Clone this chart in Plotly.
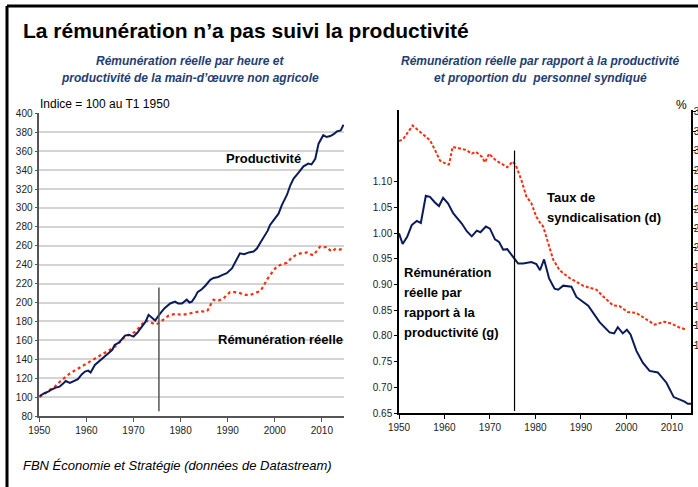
import plotly.graph_objects as go

W, H = 698, 487

# ---------------- DATA ----------------
prod_years = [1950.0, 1951.0, 1952.0, 1952.6, 1953.5, 1954.3, 1955.0, 1955.6, 1956.5, 1957.3, 1958.2, 1959.0,
              1959.7, 1960.4, 1960.9, 1961.8, 1962.8, 1963.8, 1964.8, 1965.5, 1966.0, 1967.0, 1968.2, 1969.0,
              1970.0, 1970.8, 1971.8, 1972.6, 1973.2, 1973.9, 1974.6, 1975.6, 1976.6, 1977.8, 1978.8, 1979.5,
              1980.3, 1981.3, 1981.9, 1982.4, 1983.1, 1983.6, 1984.5, 1985.3, 1986.3, 1987.0, 1988.0, 1988.8,
              1989.8, 1990.9, 1991.8, 1992.6, 1993.5, 1994.5, 1995.5, 1996.2, 1996.9, 1997.8, 1998.5, 1999.0,
              2000.0, 2000.8, 2001.5, 2002.0, 2002.6, 2003.3, 2004.0, 2005.0, 2006.1, 2007.1, 2007.8, 2008.6,
              2009.3, 2010.3, 2011.0, 2011.8, 2012.5, 2013.2, 2014.0, 2014.6]
prod_values = [101, 104, 106, 108, 110, 111, 114, 117, 115, 117, 119, 124,
               127, 128, 126, 134, 138, 143, 147, 150, 155, 158, 165, 166,
               164, 168, 174, 180, 187, 184, 181, 188, 194, 199, 201, 199,
               199, 203, 200, 201, 206, 211, 214, 218, 224, 226, 227, 229,
               231, 236, 244, 252, 251, 253, 254, 257, 263, 270, 276, 282,
               289, 294, 303, 308, 314, 324, 331, 337, 344, 347, 346, 352,
               368, 377, 375, 376, 378, 381, 382, 388]

rem_years = [1950.0, 1951.0, 1952.0, 1953.3, 1954.3, 1955.5, 1956.5, 1957.5, 1958.5, 1959.7, 1960.5, 1961.5,
             1962.3, 1963.3, 1964.5, 1966.0, 1967.0, 1968.2, 1969.3, 1970.3, 1971.3, 1972.5, 1973.2, 1974.0,
             1974.6, 1975.3, 1976.0, 1977.4, 1978.8, 1980.3, 1981.5, 1983.1, 1984.3, 1985.2, 1985.8, 1986.5,
             1987.0, 1988.0, 1989.1, 1989.8, 1990.5, 1991.5, 1992.6, 1993.5, 1994.8, 1995.8, 1996.9, 1997.6,
             1998.3, 1999.0, 1999.8, 2000.4, 2001.3, 2002.6, 2003.5, 2004.7, 2005.5, 2006.8, 2007.5, 2008.2,
             2009.0, 2009.6, 2010.3, 2011.0, 2011.6, 2012.1, 2013.0, 2013.8, 2014.6]
rem_values = [100, 103, 107, 111, 116, 121, 125, 128, 131, 134, 137, 140,
              142, 145, 149, 153, 158, 164, 166, 169, 174, 181, 180, 178,
              177, 178, 181, 186, 188, 187, 188, 190, 191, 190, 192, 199,
              203, 202, 204, 208, 211, 211, 210, 208, 208, 210, 212, 217,
              224, 229, 234, 238, 240, 242, 247, 251, 252, 253, 251, 250,
              255, 259, 258, 259, 256, 254, 257, 256, 257]

ratio_years = [1950.0, 1950.8, 1951.8, 1952.8, 1953.9, 1954.8, 1955.9, 1956.8, 1957.9, 1958.8, 1959.7, 1960.8,
               1961.9, 1963.8, 1964.9, 1966.0, 1967.1, 1967.9, 1969.1, 1970.0, 1971.1, 1972.0, 1972.9, 1973.8,
               1975.5, 1976.2, 1977.3, 1979.1, 1980.2, 1981.0, 1981.9, 1983.0, 1984.2, 1985.0, 1986.1, 1987.9,
               1989.0, 1991.6, 1994.1, 1996.3, 1997.3, 1998.1, 1999.2, 2000.1, 2000.9, 2002.2, 2003.6, 2005.1,
               2006.9, 2008.8, 2010.4, 2011.5, 2012.8, 2013.5, 2014.3]
ratio_values = [1.000, 0.979, 0.993, 1.016, 1.024, 1.020, 1.073, 1.071, 1.060, 1.053, 1.069, 1.058,
                1.039, 1.019, 1.004, 0.994, 1.005, 1.002, 1.013, 1.009, 0.988, 0.983, 0.968, 0.969,
                0.949, 0.941, 0.941, 0.944, 0.940, 0.928, 0.949, 0.912, 0.892, 0.890, 0.898, 0.896,
                0.876, 0.859, 0.827, 0.807, 0.805, 0.817, 0.805, 0.812, 0.803, 0.771, 0.748, 0.732,
                0.729, 0.709, 0.681, 0.677, 0.672, 0.668, 0.668]

union_years = [1950.0, 1950.9, 1953.0, 1954.6, 1955.7, 1956.8, 1957.9, 1959.0, 1960.5, 1961.0, 1961.8, 1963.4,
               1964.7, 1966.0, 1966.9, 1968.2, 1968.9, 1969.8, 1971.3, 1972.8, 1973.8, 1975.0, 1975.7, 1976.9,
               1978.0, 1979.1, 1980.2, 1981.0, 1981.7, 1982.8, 1983.9, 1985.3, 1987.5, 1989.0, 1990.5, 1991.9,
               1993.4, 1994.9, 1997.0, 1998.5, 2000.3, 2002.2, 2004.4, 2006.2, 2008.4, 2009.9, 2011.7, 2013.0]
union_values = [31.0, 31.2, 32.6, 32.0, 31.5, 31.1, 30.1, 29.0, 28.6, 28.6, 30.4, 30.2,
                30.1, 29.7, 29.9, 29.4, 28.8, 29.7, 29.0, 28.6, 28.3, 28.9, 28.5, 27.0,
                25.3, 24.6, 23.2, 22.6, 22.2, 20.5, 18.8, 17.7, 16.9, 16.5, 16.1, 15.9,
                15.7, 15.0, 14.1, 14.0, 13.4, 13.3, 12.6, 12.1, 12.4, 12.2, 11.8, 11.6]

left_y_ticks = list(range(80, 401, 20))
x_ticks = [1950, 1960, 1970, 1980, 1990, 2000, 2010]
ratio_ticks = [0.65, 0.70, 0.75, 0.80, 0.85, 0.90, 0.95, 1.00, 1.05, 1.10]
union_ticks = list(range(10, 35, 2))
break_year = 1975.4

# ---------------- STYLE / LAYOUT ----------------
NAVY = "#0b1a5a"
RED = "#ff2b0a"
SUB = "#233e72"
TICKFONT = dict(family="Liberation Sans Narrow, Arial Narrow, Liberation Sans, Arial", size=10, color="#222")


def px(x):
    return x / W


def py(y):
    return 1 - y / H


fig = go.Figure()

fig.add_trace(go.Scatter(x=rem_years, y=rem_values, mode="lines", xaxis="x", yaxis="y",
                         line=dict(color=RED, width=2.2, dash="dot"), hoverinfo="skip"))
fig.add_trace(go.Scatter(x=prod_years, y=prod_values, mode="lines", xaxis="x", yaxis="y",
                         line=dict(color=NAVY, width=2), hoverinfo="skip"))
fig.add_trace(go.Scatter(x=union_years, y=union_values, mode="lines", xaxis="x2", yaxis="y3",
                         line=dict(color=RED, width=2, dash="3px,2px"), hoverinfo="skip"))
fig.add_trace(go.Scatter(x=ratio_years, y=ratio_values, mode="lines", xaxis="x2", yaxis="y2",
                         line=dict(color=NAVY, width=2), hoverinfo="skip"))

common = dict(automargin=False, zeroline=False, showline=True, linewidth=1.5, ticks="outside",
              tickfont=TICKFONT)

fig.update_layout(
    template="none",
    width=W, height=H, showlegend=False,
    margin=dict(l=0, r=0, t=0, b=0, pad=0),
    paper_bgcolor="white", plot_bgcolor="rgba(0,0,0,0)",
    font=dict(family="Liberation Sans, Arial", color="black"),
    xaxis=dict(domain=[px(39.3), px(344)], range=[1950, 2014.7], tickvals=x_ticks, showgrid=False,
               linecolor="#555", ticklen=4, tickcolor="#555", anchor="y", **common),
    yaxis=dict(domain=[py(416), py(113.4)], range=[80, 400], tickvals=left_y_ticks,
               showgrid=True, gridcolor="#d4d4d4", gridwidth=1.5,
               linecolor="#555", ticklen=3, tickcolor="#555", anchor="x", **common),
    xaxis2=dict(domain=[px(399), px(691)], range=[1950, 2014.2], tickvals=x_ticks, showgrid=False,
                linecolor="black", ticklen=4, tickcolor="black", anchor="y2", **common),
    yaxis2=dict(domain=[py(413), py(110)], range=[0.65, 1.240], tickvals=ratio_ticks, tickformat=".2f",
                showgrid=False, linecolor="black", ticklen=3, tickcolor="black", anchor="x2", **common),
    yaxis3=dict(domain=[py(413), py(110)], range=[3.0, 34.2], tickvals=union_ticks, overlaying="y2",
                side="right", showgrid=False, linecolor="black", ticklen=3, tickcolor="black",
                anchor="x2", ticklabelstandoff=-4, **common),
)

# vertical separators (1975)
fig.add_shape(type="line", xref="x", yref="y", x0=break_year, x1=break_year, y0=85, y1=216,
              line=dict(color="#555", width=1.5))
fig.add_shape(type="line", xref="x2", yref="y2", x0=break_year, x1=break_year, y0=0.654, y1=1.161,
              line=dict(color="black", width=1.2))

# slide frame
fig.add_shape(type="line", xref="paper", yref="paper", x0=px(7), x1=px(7), y0=0, y1=py(6),
              line=dict(color="black", width=3))
fig.add_shape(type="line", xref="paper", yref="paper", x0=px(7), x1=1, y0=py(6), y1=py(6),
              line=dict(color="black", width=3))


def txt(x, y, s, size, bold=False, italic=False, color="black", xanchor="left", align="left"):
    if bold:
        s = "<b>" + s + "</b>"
    if italic:
        s = "<i>" + s + "</i>"
    fig.add_annotation(xref="paper", yref="paper", x=px(x), y=py(y), text=s, showarrow=False,
                       xanchor=xanchor, yanchor="middle", align=align,
                       font=dict(size=size, color=color, family="Liberation Sans, Arial"))


txt(21, 30, "La rémunération n’a pas suivi la productivité", 21, bold=True)
txt(190, 61, "Rémunération réelle par heure et", 12, bold=True, italic=True, color=SUB, xanchor="center")
txt(190, 78, "productivité de la main-d’œuvre non agricole", 12, bold=True, italic=True, color=SUB, xanchor="center")
txt(540, 61, "Rémunération réelle par rapport à la productivité", 12, bold=True, italic=True, color=SUB, xanchor="center")
txt(540, 78, "et proportion du  personnel syndiqué", 12, bold=True, italic=True, color=SUB, xanchor="center")
txt(38, 104, "Indice = 100 au T1 1950", 12)
txt(674, 105, "%", 12)
txt(224, 158, "Productivité", 13, bold=True)
txt(216, 339, "Rémunération réelle", 13, bold=True)
txt(545, 198, "Taux de", 13, bold=True)
txt(545, 217, "syndicalisation (d)", 13, bold=True)
txt(402, 272, "Rémunération", 13, bold=True)
txt(402, 292, "réelle par", 13, bold=True)
txt(402, 312, "rapport à la", 13, bold=True)
txt(402, 332, "productivité (g)", 13, bold=True)
txt(21, 465, "FBN Économie et Stratégie (données de Datastream)", 13, italic=True)

fig.write_html("out.html", config={"displayModeBar": False},
               post_script="document.body.style.margin='0';document.body.style.overflow='hidden';")
